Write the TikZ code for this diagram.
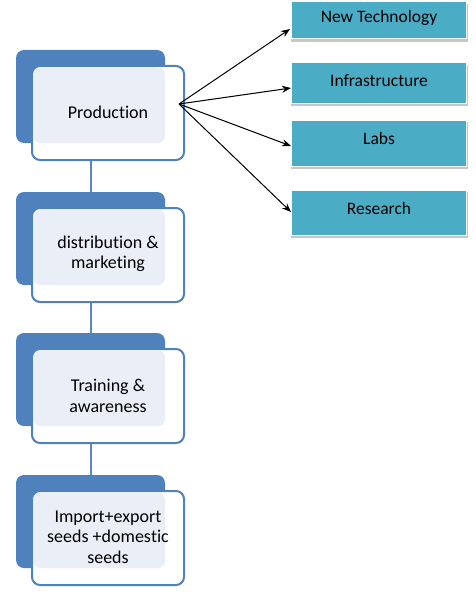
\documentclass[tikz,border=0pt]{standalone}
\usepackage{fontspec}
\setmainfont{Carlito}[Ligatures=NoCommon]
\usetikzlibrary{arrows.meta}
\definecolor{darkb}{HTML}{4F81BD}
\definecolor{lightb}{HTML}{EAEFF7}
\definecolor{teal1}{HTML}{4BACC6}
\definecolor{linkb}{HTML}{5A86BA}
\tikzset{
  backbox/.style={fill=darkb, rounded corners=8pt},
  frontbox/.style={draw=darkb, line width=2pt, fill=white, rounded corners=8pt},
  lbl/.style={font=\fontsize{18}{20.5}\selectfont, align=center, text=black},
  rbox/.style={fill=teal1, draw=white, line width=1pt},
  rshadow/.style={fill=black!22},
  rlbl/.style={font=\fontsize{17.5}{20}\selectfont, text=black},
  link/.style={draw=linkb, line width=2.5pt},
  arr/.style={-{Stealth[length=9pt,width=7pt]}, line width=1pt}
}
\begin{document}
\begin{tikzpicture}[x=1pt,y=-1pt]
\path[use as bounding box, fill=white] (0,0) rectangle (476,594);
% connectors between left boxes
\foreach \t/\b in {160/192, 302/333, 444/475}{
  \draw[link] (91,\t) -- (91,\b);
}
% left boxes
\foreach \y in {50, 192, 333, 475}{
  \fill[backbox] (16,\y) rectangle (165,\y+93);
  \draw[frontbox] (32,\y+16) rectangle (184,\y+110);
  \fill[lightb, rounded corners=7pt] (33.5,\y+17.5) rectangle (165,\y+93);
}
\node[lbl] (prod) at (108,112) {Production};
\node[lbl] (dist) at (108,254) {distribution \&\\marketing};
\node[lbl] (train) at (108,396) {Training \&\\awareness};
\node[lbl] (imp) at (108,537) {Import+export\\seeds +domes\kern0pt tic\\seeds};
% right boxes
\foreach \ya/\yb in {2/39, 63/103, 120/166, 190/235}{
  \fill[rshadow] (291,\ya+2) rectangle (468,\yb+3);
  \draw[rbox] (291,\ya) rectangle (466,\yb);
}
\node[rlbl] (ntl) at (379,18) {New Technology};
\node[rlbl] (infl) at (379,81) {Infrastructure};
\node[rlbl] (labl) at (379,138) {Labs};
\node[rlbl] (resl) at (379,208) {Research};
\coordinate (src) at (179,104);
\draw[arr] (src) -- (290,29);
\draw[arr] (src) -- (291,88);
\draw[arr] (src) -- (291,146);
\draw[arr] (src) -- (291,212);
\end{tikzpicture}
\end{document}
